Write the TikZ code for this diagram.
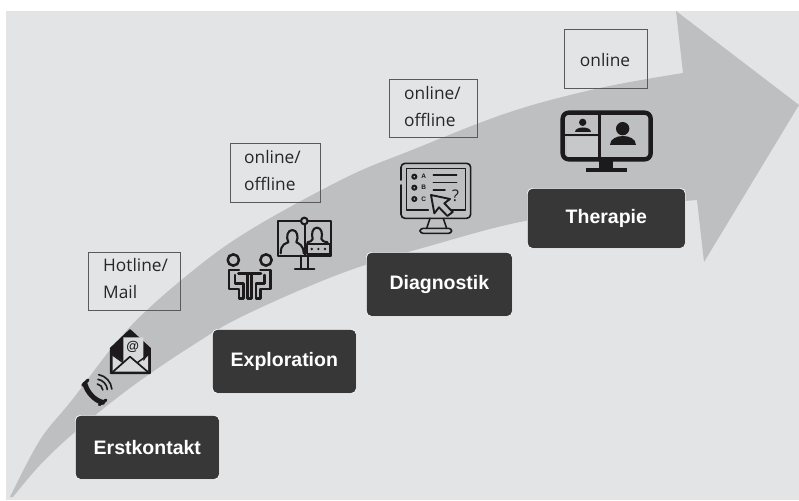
\documentclass[tikz,border=0pt]{standalone}
\usepackage{fontspec}
\setmainfont{Open Sans}
\newfontfamily\boldsans{Liberation Sans}[BoldFont={Liberation Sans Bold}]
\definecolor{bg}{HTML}{E3E4E6}
\definecolor{band}{HTML}{BEBFC1}
\definecolor{stepc}{HTML}{373737}
\definecolor{ink}{HTML}{1C1A1B}
\definecolor{lbl}{HTML}{5A5A5A}
\tikzset{
 stepbox/.style={draw=white,line width=.7pt,fill=stepc,rounded corners=5pt,text=white,font=\boldsans\fontsize{19.5}{22}\selectfont\bfseries,anchor=north west,inner sep=0pt,align=center},
 lblbox/.style={draw=lbl,line width=.8pt,anchor=north west,inner sep=0pt},
 lbltext/.style={anchor=west,inner sep=0pt,align=left,text=black!85,font=\fontsize{17.3}{27}\selectfont},
 icon/.style={line width=#1,draw=ink,line cap=round,line join=round},
 icon/.default=6pt
}
\begin{document}
\begin{tikzpicture}[x=1pt,y=-1pt]
\useasboundingbox (0,0) rectangle (799,500);
\fill[white] (0,0) rectangle (799,500);
\fill[bg] (6,11) rectangle (799,500);
\fill[band] plot[smooth,tension=.6] coordinates {(10,497) (40,440) (72,400) (127,330) (190,273) (250,230) (345,178) (412,150) (510,112) (600,88) (683,73)}
 -- (676,11) -- (799,105) -- (704,262) -- (697,200)
 -- plot[smooth,tension=.6] coordinates {(697,200) (610,208) (520,222) (440,243) (345,272) (245,315) (190,347) (130,388) (75,432) (40,465) (13,497)} -- cycle;

% label boxes
\node[lblbox,minimum width=92pt,minimum height=58pt] (l1) at (88,252) {};
\node[lbltext] (t1) at (103,279) {Hotline/\\Mail};
\node[lblbox,minimum width=90pt,minimum height=59pt] (l2) at (230,143) {};
\node[lbltext] (t2) at (244,171) {online/\\offline};
\node[lblbox,minimum width=88pt,minimum height=58pt] (l3) at (389,79) {};
\node[lbltext] (t3) at (404,107) {online/\\offline};
\node[lblbox,minimum width=83pt,minimum height=59pt] (l4) at (564,29) {};
\node[lbltext,anchor=center] (t4) at (605,60) {online};

% step boxes
\node[stepbox,minimum width=144pt,minimum height=64pt] (s1) at (75,415) {Erstkontakt};
\node[stepbox,minimum width=144pt,minimum height=64pt] (s2) at (212,329) {Exploration};
\node[stepbox,minimum width=146pt,minimum height=64pt] (s3) at (366,252) {Diagnostik};
\node[stepbox,minimum width=158pt,minimum height=60pt] (s4) at (527,188) {Therapie};

% envelope + phone (zoom coordinates, 3 units = 1 px)
\begin{scope}[shift={(60,240)},scale=1/3]
 \draw[icon=1.6pt,fill=ink] (152,325) -- (210,270) -- (270,325) -- (270,400) -- (152,400) -- cycle;
 \fill[bg!70!band] (158,395) -- (158,345) -- (190,365) -- (190,292) -- (250,292) -- (250,365) -- (264,345) -- (264,395) -- cycle;
 \draw[icon=1.7pt] (158,396) -- (210,350) -- (264,396);
 \draw[icon=1.5pt] (158,345) -- (190,368) (264,345) -- (232,368);
 \node[font=\boldsans\fontsize{13}{13}\selectfont\bfseries,text=ink,inner sep=0pt] (at) at (218,320) {@};
 \draw[ink,line width=5pt,line cap=round] (75,432) .. controls (82,458) and (105,482) .. (128,487);
 \draw[ink,line width=3pt,line cap=round] (84,420) -- (68,436) (118,494) -- (138,480);
 \draw[icon=1.6pt] (112,432) arc[start angle=-80,end angle=-5,radius=20];
 \draw[icon=1.6pt] (114,418) arc[start angle=-80,end angle=-5,radius=34];
 \draw[icon=1.6pt] (116,404) arc[start angle=-80,end angle=-5,radius=48];
\end{scope}

% people at table + video monitor
\begin{scope}[shift={(215,135)},scale=1/3]
 \draw[icon=2.5pt] (55,375) circle[radius=17] (153,375) circle[radius=17];
 \draw[icon=2.5pt] (70,415) -- (138,415);
 \draw[icon=2.5pt] (97,415) -- (97,490) -- (110,490) -- (110,415);
 \draw[icon=2.5pt] (72,405) -- (42,405) -- (42,462) -- (72,462) -- (72,490) -- (85,490) -- (85,445) -- (60,445) -- (60,420);
 \draw[icon=2.5pt] (136,405) -- (166,405) -- (166,462) -- (136,462) -- (136,490) -- (123,490) -- (123,445) -- (148,445) -- (148,420);
 \draw[icon=2.3pt] (190,258) rectangle (348,362);
 \draw[icon=2.1pt] (270,258) -- (270,362);
 \draw[icon=2.1pt] (197,355) .. controls (197,325) and (215,325) .. (220,322) .. controls (212,305) and (218,285) .. (232,285) .. controls (246,285) and (252,305) .. (244,322) .. controls (250,325) and (266,330) .. (266,355);
 \draw[icon=2.1pt] (277,322) .. controls (285,320) and (292,318) .. (293,312) .. controls (288,295) and (293,278) .. (306,278) .. controls (319,278) and (324,295) .. (319,312) .. controls (320,318) and (328,320) .. (338,322);
 \draw[icon=2.1pt] (275,327) rectangle (345,358);
 \fill[ink] (290,342) circle[radius=4] (310,342) circle[radius=4] (330,342) circle[radius=4];
 \draw[icon=2.1pt,fill=band] (268,258) circle[radius=10];
 \draw[icon=2.3pt] (258,362) -- (258,402) (278,362) -- (278,402) (240,403) -- (298,403);
\end{scope}

% quiz monitor
\begin{scope}[shift={(385,150)},scale=1/3]
 \draw[icon=1.6pt,rounded corners=4pt] (48,90) -- (48,40) -- (257,40) -- (257,205) -- (48,205) -- (48,105);
 \draw[icon=1.6pt] (65,180) -- (65,55) -- (242,55) -- (242,180) -- (200,180) (130,180) -- (65,180);
 \draw[icon=1.6pt] (135,205) -- (125,235) (175,205) -- (185,235);
 \draw[icon=1.6pt,rounded corners=3pt] (105,235) rectangle (200,250);
 \draw[icon=2pt] (88,80) circle[radius=6] (88,113) circle[radius=6] (88,147) circle[radius=6];
 \node[font=\boldsans\fontsize{6.5}{7}\selectfont\bfseries,text=ink,inner sep=0pt] (qa) at (116,80) {A};
 \node[font=\boldsans\fontsize{6.5}{7}\selectfont\bfseries,text=ink,inner sep=0pt] (qb) at (116,113) {B};
 \node[font=\boldsans\fontsize{6.5}{7}\selectfont\bfseries,text=ink,inner sep=0pt] (qc) at (116,147) {C};
 \draw[icon=1.5pt] (145,75) -- (215,75) (145,97) -- (215,97) (145,120) -- (180,120);
 \draw[icon=1.9pt,fill=band] (138,135) -- (195,147) -- (178,160) -- (203,186) -- (187,198) -- (162,172) -- (148,190) -- cycle;
 \node[font=\fontsize{16}{16}\selectfont,text=ink,inner sep=0pt] (qm) at (212,138) {?};
\end{scope}

% video call monitor
\begin{scope}[shift={(550,100)},scale=1/3]
 \fill[ink] (148,175) rectangle (188,205);
 \fill[ink] (108,203) rectangle (232,217);
 \fill[bg!25!band] (52,112) rectangle (143,170);
 \draw[icon=4.4pt,line cap=butt,rounded corners=6pt] (38,38) rectangle (302,178);
 \draw[icon=2.8pt,line cap=butt] (148,38) -- (148,178);
 \draw[icon=2pt,line cap=butt] (45,106) -- (148,106);
 \fill[ink] (98,67) circle[radius=11];
 \fill[ink] (75,96) .. controls (75,78) and (122,78) .. (122,96) -- cycle;
 \fill[ink] (218,86) circle[radius=20];
 \fill[ink] (180,136) .. controls (180,98) and (258,98) .. (258,136) -- cycle;
\end{scope}
\end{tikzpicture}
\end{document}
